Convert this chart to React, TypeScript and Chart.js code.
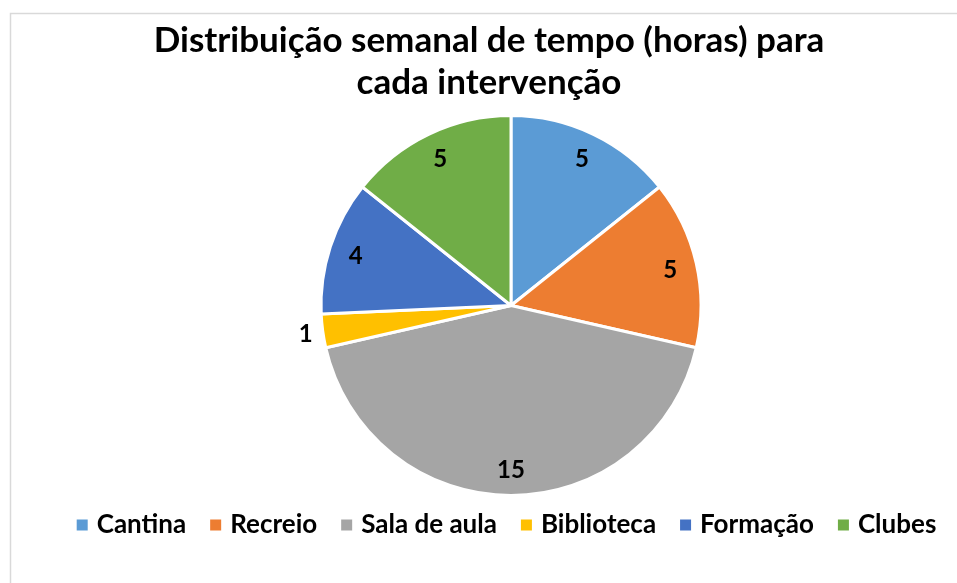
import React, { useEffect, useRef } from "react";
import { Chart, registerables } from "chart.js";

Chart.register(...registerables);

const titleLines: string[] = ["Distribuição semanal de tempo (horas) para", "cada intervenção"];
const categories: string[] = ["Cantina", "Recreio", "Sala de aula", "Biblioteca", "Formação", "Clubes"];
const hours: number[] = [5, 5, 15, 1, 4, 5];
const sliceColors: string[] = ["#5B9BD5", "#ED7D31", "#A5A5A5", "#FFC000", "#4472C4", "#70AD47"];

const FONT = "Lato, 'Open Sans', sans-serif";

const framePlugin = {
  id: "frame",
  beforeDraw(chart: any) {
    const ctx = chart.ctx;
    ctx.save();
    ctx.fillStyle = "#ffffff";
    ctx.fillRect(0, 0, chart.width, chart.height);
    ctx.strokeStyle = "#D9D9D9";
    ctx.lineWidth = 1.5;
    ctx.strokeRect(10.5, 13.5, chart.width + 100, chart.height + 100);
    ctx.restore();
  },
};

const titlePlugin = {
  id: "customTitle",
  afterDraw(chart: any) {
    const ctx = chart.ctx;
    ctx.save();
    ctx.fillStyle = "#000000";
    ctx.font = `bold 35px ${FONT}`;
    ctx.textAlign = "center";
    ctx.textBaseline = "alphabetic";
    titleLines.forEach((line, i) => {
      ctx.fillText(line, 489, 52 + i * 42);
    });
    ctx.restore();
  },
};

const legendPlugin = {
  id: "customLegend",
  afterDraw(chart: any) {
    const ctx = chart.ctx;
    const labels = chart.data.labels as string[];
    const colors = chart.data.datasets[0].backgroundColor as string[];
    const box = 11;
    const boxGap = 9;
    const itemGap = 24;
    ctx.save();
    ctx.font = `bold 26px ${FONT}`;
    ctx.textAlign = "left";
    ctx.textBaseline = "alphabetic";
    const widths = labels.map((l) => ctx.measureText(l).width);
    const total =
      widths.reduce((a, w) => a + box + boxGap + w, 0) + itemGap * (labels.length - 1);
    let x = 506.5 - total / 2;
    const baseline = 533;
    labels.forEach((l, i) => {
      ctx.fillStyle = colors[i];
      ctx.fillRect(x, baseline - 13.5, box, box);
      x += box + boxGap;
      ctx.fillStyle = "#000000";
      ctx.fillText(l, x, baseline);
      x += widths[i] + itemGap;
    });
    ctx.restore();
  },
};

const labelPlugin = {
  id: "sliceLabels",
  afterDatasetsDraw(chart: any) {
    const ctx = chart.ctx;
    const meta = chart.getDatasetMeta(0);
    const data = chart.data.datasets[0].data as number[];
    const total = data.reduce((a, b) => a + b, 0);
    ctx.save();
    ctx.fillStyle = "#000000";
    ctx.font = `bold 24px ${FONT}`;
    ctx.textAlign = "center";
    ctx.textBaseline = "middle";
    meta.data.forEach((arc: any, i: number) => {
      const p = arc.getProps(["x", "y", "startAngle", "endAngle", "outerRadius"], true);
      const mid = (p.startAngle + p.endAngle) / 2;
      const frac = data[i] / total;
      const k = frac < 0.05 ? 1.09 : 0.86;
      const x = p.x + Math.cos(mid) * p.outerRadius * k;
      const y = p.y + Math.sin(mid) * p.outerRadius * k;
      ctx.fillText(String(data[i]), x, y + 1);
    });
    ctx.restore();
  },
};

export default function App() {
  const canvasRef = useRef<HTMLCanvasElement | null>(null);

  useEffect(() => {
    document.body.style.margin = "0";
    if (!canvasRef.current) return;
    const chart = new Chart(canvasRef.current, {
      type: "pie",
      data: {
        labels: categories,
        datasets: [
          {
            data: hours,
            backgroundColor: sliceColors,
            borderColor: "#ffffff",
            borderWidth: 3,
            radius: 190,
            clip: false,
          } as any,
        ],
      },
      options: {
        responsive: false,
        animation: false,
        layout: { padding: { left: 65, right: 0, top: 116, bottom: 88 } },
        plugins: {
          title: { display: false },
          tooltip: { enabled: false },
          legend: { display: false },
        },
      },
      plugins: [framePlugin, titlePlugin, legendPlugin, labelPlugin],
    });
    return () => chart.destroy();
  }, []);

  return (
    <div style={{ position: "absolute", left: 0, top: 0, width: 957, height: 583 }}>
      <canvas ref={canvasRef} width={957} height={583} />
    </div>
  );
}
